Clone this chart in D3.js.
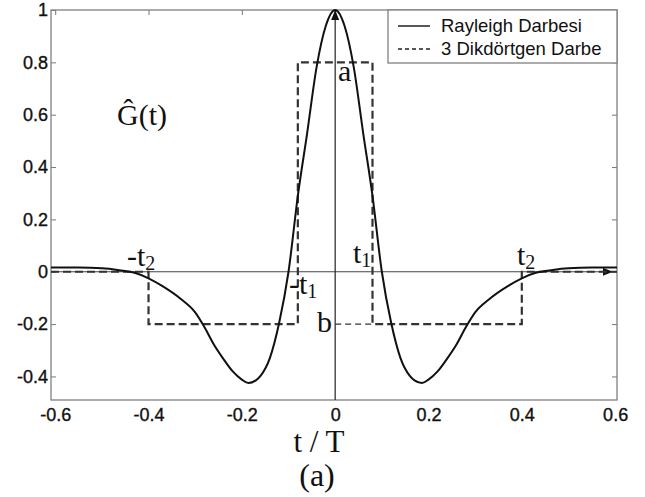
<!DOCTYPE html>
<html lang="tr">
<head>
<meta charset="UTF-8">
<title>Rayleigh Darbesi</title>
<script src="https://cdnjs.cloudflare.com/ajax/libs/d3/7.8.5/d3.min.js"></script>
<style>
body { margin: 0; background: #fff; }
</style>
</head>
<body>
<svg id="chart" width="645" height="497"></svg>
<script>
// Rayleigh pulse
var tValues = [-0.609, -0.55, -0.5, -0.47, -0.45, -0.43, -0.4, -0.37, -0.33, -0.3, -0.28, -0.26, -0.24, -0.22, -0.2, -0.186, -0.17, -0.16, -0.14, -0.12, -0.1, -0.08, -0.06, -0.04, -0.02, 0,
               0.02, 0.04, 0.06, 0.08, 0.1, 0.12, 0.14, 0.16, 0.17, 0.186, 0.2, 0.22, 0.24, 0.26, 0.28, 0.3, 0.33, 0.37, 0.4, 0.43, 0.45, 0.47, 0.5, 0.55, 0.604];
var gValues = [0.016, 0.016, 0.013, 0.008, 0.003, -0.004, -0.025, -0.055, -0.105, -0.155, -0.212, -0.278, -0.332, -0.38, -0.412, -0.425, -0.415, -0.398, -0.33, -0.195, 0.0, 0.29, 0.53, 0.78, 0.94, 1.0,
               0.94, 0.78, 0.53, 0.29, 0.0, -0.195, -0.33, -0.398, -0.415, -0.425, -0.412, -0.38, -0.332, -0.278, -0.212, -0.155, -0.105, -0.055, -0.025, -0.004, 0.003, 0.008, 0.013, 0.016, 0.016];

// three rectangular pulses (step levels)
var pulseT = [-0.609, -0.4, -0.08, 0.08, 0.4, 0.604];
var pulseG = [0, -0.2, 0.8, -0.2, 0, 0];
// guide from the vertical axis to t1 at level b
var guideT = [0, 0.08];
var guideG = [-0.2, -0.2];

var xTicks = [-0.6, -0.4, -0.2, 0, 0.2, 0.4, 0.6];
var xTickLabels = ["-0.6", "-0.4", "-0.2", "0", "0.2", "0.4", "0.6"];
var yTicks = [-0.4, -0.2, 0, 0.2, 0.4, 0.6, 0.8, 1];
var yTickLabels = ["-0.4", "-0.2", "0", "0.2", "0.4", "0.6", "0.8", "1"];
var xLimits = [-0.609, 0.604];
var yLimits = [-0.49, 1];

var legendLabels = ["Rayleigh Darbesi", "3 Dikdörtgen Darbe"];

var svg = d3.select("#chart");
var x = d3.scaleLinear().domain(xLimits).range([51, 617]);
var y = d3.scaleLinear().domain(yLimits).range([400, 10]);

var sans = "'Liberation Sans', Arial, sans-serif";
var serif = "'Liberation Serif', 'Times New Roman', serif";

var defs = svg.append("defs");
defs.append("marker").attr("id", "arrow")
	.attr("viewBox", "0 0 10 8").attr("refX", 10).attr("refY", 4)
	.attr("markerWidth", 10).attr("markerHeight", 8)
	.attr("markerUnits", "userSpaceOnUse").attr("orient", "auto")
	.append("path").attr("d", "M0,0L10,4L0,8Z").attr("fill", "#111");
defs.append("clipPath").attr("id", "pageclip")
	.append("rect").attr("x", 0).attr("y", 0).attr("width", 628).attr("height", 497);

// inward ticks on all four sides
function tidy(g) {
	g.select(".domain").remove();
	g.selectAll(".tick line").attr("stroke", "#777").attr("stroke-width", 1);
	g.selectAll(".tick text").attr("fill", "#111").attr("font-family", sans).attr("font-size", 18)
		.attr("stroke", "#111").attr("stroke-width", 0.35);
}
svg.append("g").attr("transform", "translate(0,400)")
	.call(d3.axisBottom(x).tickValues(xTicks).tickSize(-5).tickPadding(8)
		.tickFormat(function(d, i) { return xTickLabels[i]; }))
	.call(tidy).attr("clip-path", "url(#pageclip)");
svg.append("g").attr("transform", "translate(51,0)")
	.call(d3.axisLeft(y).tickValues(yTicks).tickSize(-5).tickPadding(3)
		.tickFormat(function(d, i) { return yTickLabels[i]; }))
	.call(tidy);
svg.append("g").attr("transform", "translate(0,10)")
	.call(d3.axisTop(x).tickValues(xTicks).tickSize(-5).tickFormat(""))
	.call(tidy);
svg.append("g").attr("transform", "translate(617,0)")
	.call(d3.axisRight(y).tickValues(yTicks).tickSize(-5).tickFormat(""))
	.call(tidy);

svg.append("rect")
	.attr("x", x(xLimits[0])).attr("y", y(yLimits[1]))
	.attr("width", x(xLimits[1]) - x(xLimits[0])).attr("height", y(yLimits[0]) - y(yLimits[1]))
	.attr("fill", "none").attr("stroke", "#808080").attr("stroke-width", 1.3);

// hand drawn axes with arrows
svg.append("line")
	.attr("x1", x(xLimits[0])).attr("x2", x(0.595))
	.attr("y1", y(0)).attr("y2", y(0))
	.attr("stroke", "#444").attr("stroke-width", 1.2).attr("marker-end", "url(#arrow)");
svg.append("line")
	.attr("x1", x(0)).attr("x2", x(0))
	.attr("y1", y(yLimits[0])).attr("y2", y(1))
	.attr("stroke", "#222").attr("stroke-width", 1.2).attr("marker-end", "url(#arrow)");

var pulse = d3.line().curve(d3.curveStepAfter)
	.x(function(d, i) { return x(pulseT[i]); })
	.y(function(d) { return y(d); });
svg.append("path").attr("d", pulse(pulseG))
	.attr("fill", "none").attr("stroke", "#333").attr("stroke-width", 2.2)
	.attr("stroke-dasharray", "8,4");

var guide = d3.line()
	.x(function(d, i) { return x(guideT[i]); })
	.y(function(d) { return y(d); });
svg.append("path").attr("d", guide(guideG))
	.attr("fill", "none").attr("stroke", "#333").attr("stroke-width", 1.4)
	.attr("stroke-dasharray", "6,4");

var curve = d3.line().curve(d3.curveMonotoneX)
	.x(function(d, i) { return x(tValues[i]); })
	.y(function(d) { return y(d); });
svg.append("path").attr("d", curve(gValues))
	.attr("fill", "none").attr("stroke", "#111").attr("stroke-width", 2);

// legend
var lg = svg.append("g");
lg.append("rect").attr("x", 388).attr("y", 10).attr("width", 229).attr("height", 53)
	.attr("fill", "#fff").attr("stroke", "#808080").attr("stroke-width", 1.3);
legendLabels.forEach(function(label, i) {
	var yy = 26 + i * 23;
	lg.append("line").attr("x1", 398).attr("x2", 430).attr("y1", yy).attr("y2", yy)
		.attr("stroke", "#222").attr("stroke-width", 1.5)
		.attr("stroke-dasharray", i === 0 ? null : "4,3");
	lg.append("text").attr("x", 441).attr("y", yy + 6).text(label)
		.attr("font-family", sans).attr("font-size", 18.5).attr("fill", "#111");
});

// annotations
function note(px, py, main, sub) {
	var t = svg.append("text").attr("x", px).attr("y", py)
		.attr("font-family", serif).attr("font-size", 30).attr("fill", "#111");
	t.append("tspan").text(main);
	if (sub) t.append("tspan").attr("font-size", 20).attr("dy", 4).text(sub);
	return t;
}
note(117, 125, "\u011C(t)");
note(338, 81, "a");
note(353, 263, "t", "1");
note(289, 294, "-t", "1");
note(317, 332, "b");
note(127, 266, "-t", "2");
note(517, 265, "t", "2");

svg.append("text").attr("x", 319).attr("y", 452).attr("text-anchor", "middle")
	.attr("font-family", serif).attr("font-size", 31).attr("fill", "#111").text("t / T");
svg.append("text").attr("x", 317).attr("y", 486).attr("text-anchor", "middle")
	.attr("font-family", serif).attr("font-size", 32).attr("fill", "#111").text("(a)");
</script>
</body>
</html>
